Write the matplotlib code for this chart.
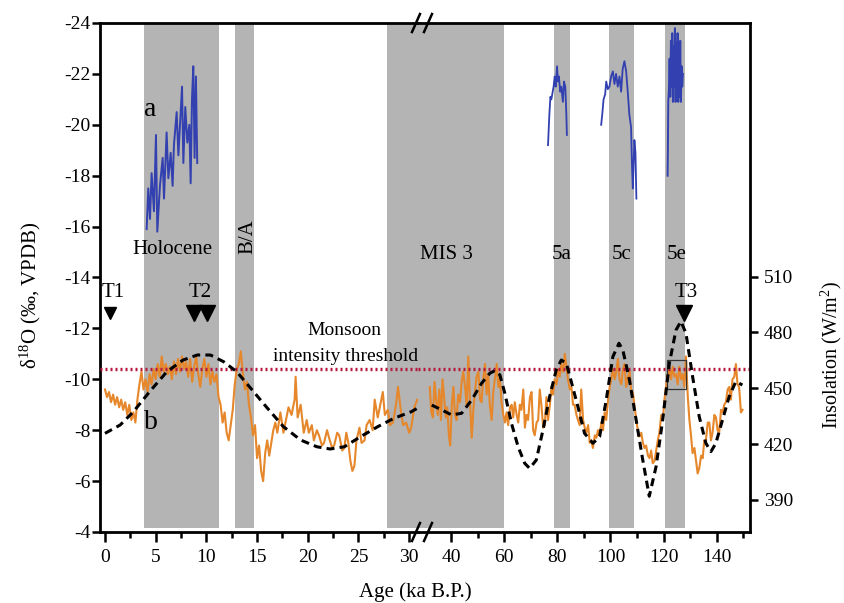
import matplotlib
matplotlib.use("Agg")
import matplotlib.pyplot as plt
from matplotlib.patches import Rectangle
from matplotlib.lines import Line2D

plt.rcParams['font.family'] = ['Liberation Serif', 'DejaVu Serif']
plt.rcParams['mathtext.fontset'] = 'custom'
plt.rcParams['mathtext.rm'] = 'Liberation Serif'
plt.rcParams['mathtext.it'] = 'Liberation Serif:italic'
plt.rcParams['axes.unicode_minus'] = False

# ---------------- data ----------------
# orange d18O record (b), younger part (0-31 ka)
b_age_young = [0.0, 0.2, 0.4, 0.6, 0.8, 1.0, 1.2, 1.4, 1.6, 1.8, 2.0, 2.2, 2.4, 2.6, 2.8, 3.0,
               3.2, 3.4, 3.6, 3.8, 4.0, 4.2, 4.4, 4.6, 4.8, 5.0, 5.2, 5.4, 5.6, 5.8, 6.0, 6.2,
               6.4, 6.6, 6.8, 7.0, 7.2, 7.4, 7.6, 7.8, 8.0, 8.2, 8.4, 8.6, 8.8, 9.0, 9.2, 9.4,
               9.6, 9.8, 10.0, 10.2, 10.4, 10.6, 10.8, 11.0, 11.2, 11.4, 11.6, 11.8, 12.0, 12.2,
               12.4, 12.6, 12.8, 13.0, 13.2, 13.4, 13.6, 13.8, 14.0, 14.2, 14.4, 14.6, 14.8, 15.0,
               15.2, 15.4, 15.6, 15.8, 16.0, 16.2, 16.4, 16.6, 16.8, 17.0, 17.3, 17.6, 17.9, 18.1,
               18.4, 18.7, 18.8, 19.0, 19.3, 19.6, 19.9, 20.1, 20.4, 20.6, 20.9, 21.1, 21.4, 21.6,
               21.9, 22.1, 22.4, 22.6, 22.9, 23.1, 23.4, 23.6, 23.8, 24.0, 24.2, 24.4, 24.6, 24.8,
               25.1, 25.3, 25.6, 25.8, 26.1, 26.4, 26.6, 26.9, 27.1, 27.4, 27.6, 27.9, 28.1, 28.4,
               28.7, 28.9, 29.2, 29.4, 29.7, 30.0, 30.2, 30.5, 30.8]
b_val_young = [-9.6, -9.3, -9.5, -9.1, -9.4, -9.0, -9.3, -8.9, -9.2, -8.8, -9.1, -8.6, -9.0, -8.4, -8.7, -8.3,
               -9.2, -9.8, -10.3, -9.6, -10.0, -9.5, -10.2, -9.8, -10.4, -10.0, -10.6, -10.1, -10.9, -10.3, -10.6, -10.2,
               -10.5, -10.0, -10.7, -10.2, -10.8, -10.3, -10.9, -10.4, -10.7, -10.1, -10.8, -9.9, -10.5, -10.9, -10.2, -9.7,
               -10.4, -10.8, -10.1, -10.6, -9.8, -10.3, -9.9, -10.2, -9.3, -9.0, -8.3, -8.7, -7.9, -7.6,
               -8.2, -8.8, -9.8, -10.4, -10.6, -11.1, -10.2, -9.6, -9.9, -9.0, -8.5, -7.8, -8.2, -6.9,
               -7.4, -6.4, -6.0, -7.1, -7.6, -7.0, -7.5, -8.0, -8.3, -7.9, -8.7, -7.9, -8.5, -8.9,
               -8.6, -9.2, -10.1, -8.5, -9.0, -7.9, -8.4, -7.9, -8.2, -7.6, -8.0, -7.8, -7.4, -7.5,
               -8.0, -7.7, -7.3, -7.4, -7.9, -7.8, -7.2, -7.3, -7.9, -7.5, -6.8, -6.4, -6.6, -7.6,
               -8.1, -7.5, -7.6, -8.2, -8.4, -8.0, -9.2, -8.5, -8.9, -9.5, -8.6, -8.8, -8.2, -8.3,
               -9.0, -9.7, -8.7, -8.2, -8.3, -7.9, -8.1, -8.9, -9.2]

# orange d18O record (b), older part (32-150 ka)
b_age_old = [32.0, 32.6, 33.2, 33.8, 34.4, 35.0, 35.6, 36.2, 36.8, 37.4, 38.0, 38.6, 39.2, 39.7, 40.3, 40.9,
             41.5, 42.1, 42.7, 43.4, 44.0, 44.6, 45.3, 45.9, 46.5, 47.1, 47.8, 48.4, 49.0, 49.6, 50.3, 50.9,
             51.5, 52.1, 52.8, 53.4, 54.0, 54.6, 55.3, 55.9, 56.5, 57.2, 57.8, 58.4, 59.0, 59.7, 60.3, 60.9,
             61.5, 62.2, 62.8, 63.4, 64.0, 64.7, 65.3, 65.9, 66.5, 67.2, 67.8, 68.4, 69.0, 69.7, 70.3, 70.9,
             71.5, 72.2, 72.8, 73.4, 74.0, 74.7, 75.3, 75.9, 76.5, 77.2, 77.8, 78.4, 79.0, 79.7, 80.3, 80.9,
             81.5, 82.2, 82.8, 83.4, 84.0, 84.7, 85.3, 85.9, 86.5, 87.2, 87.8, 88.4, 89.0, 89.7, 90.3, 90.9,
             91.6, 92.2, 92.8, 93.4, 94.1, 94.7, 95.3, 95.9, 96.6, 97.2, 97.8, 98.4, 99.1, 99.7, 100.3, 100.9,
             101.6, 102.2, 102.8, 103.4, 104.1, 104.7, 105.3, 105.9, 106.6, 107.2, 107.8, 108.4, 109.1, 109.7,
             110.3, 110.9, 111.6, 112.2, 112.8, 113.4, 114.1, 114.7, 115.3, 115.9, 116.6, 117.2, 117.8, 118.4,
             119.1, 119.7, 120.3, 120.9, 121.6, 122.2, 122.8, 123.4, 124.1, 124.7, 125.3, 125.9, 126.6, 127.2,
             127.8, 128.4, 129.1, 129.7, 130.3, 130.9, 131.6, 132.2, 132.8, 133.4, 134.1, 134.7, 135.3, 135.9,
             136.6, 137.2, 137.8, 138.4, 139.1, 139.7, 140.3, 140.9, 141.6, 142.2, 142.8, 143.4, 144.1, 144.7,
             145.3, 145.9, 146.6, 147.2, 147.8, 148.4, 149.1, 149.7]
b_val_old = [-9.7, -8.7, -8.5, -9.9, -9.2, -8.6, -9.6, -8.4, -10.0, -9.3, -8.5, -8.9, -7.8, -7.4, -9.0, -9.7,
             -8.6, -8.4, -9.4, -9.1, -9.9, -10.3, -9.7, -8.9, -10.9, -9.2, -7.7, -8.8, -9.5, -10.1, -10.3, -9.2,
             -9.1, -10.0, -10.6, -9.4, -10.2, -9.0, -8.4, -9.5, -10.0, -10.6, -9.7, -10.0, -9.1, -8.6, -8.3, -8.7,
             -8.2, -8.9, -9.0, -8.5, -9.1, -8.6, -8.3, -9.0, -8.8, -9.6, -8.1, -8.6, -8.4, -9.3, -9.5, -8.0,
             -7.8, -8.3, -8.4, -9.6, -9.0, -8.1, -8.2, -9.3, -8.4, -9.0, -9.7, -9.4, -10.0, -9.8, -10.4, -10.1,
             -10.6, -10.3, -11.0, -10.5, -10.0, -9.6, -9.7, -9.0, -9.0, -8.6, -8.4, -8.2, -9.6, -8.4, -8.1, -7.9,
             -8.2, -7.5, -7.6, -7.3, -7.8, -7.7, -8.0, -7.8, -8.3, -8.0, -8.7, -8.4, -9.2, -9.7, -10.0, -10.4,
             -10.0, -10.3, -10.8, -10.0, -9.8, -10.4, -10.6, -9.7, -10.1, -10.3, -9.5, -9.5, -8.9, -8.4,
             -8.0, -7.75, -7.9, -7.5, -7.3, -7.4, -7.0, -6.9, -7.2, -6.7, -6.8, -7.2, -7.6, -7.9,
             -8.6, -8.4, -9.2, -9.7, -10.2, -10.4, -10.0, -10.5, -10.1, -10.2, -9.8, -10.5, -10.0, -10.2,
             -9.7, -10.9, -9.3, -8.4, -7.8, -7.1, -7.3, -6.8, -6.3, -6.5, -7.0, -6.9, -7.6, -7.6,
             -8.3, -8.3, -7.6, -7.9, -8.6, -8.5, -8.0, -7.9, -8.8, -8.7, -9.0, -9.1, -9.6, -9.7,
             -9.2, -10.0, -10.1, -10.6, -9.8, -9.7, -8.7, -8.8]

# blue d18O record (a)
a_age_holo = [4.11, 4.27, 4.44, 4.6, 4.83, 5.03, 5.16, 5.42, 5.69, 5.82, 6.08, 6.25, 6.48, 6.67, 6.8,
              7.07, 7.24, 7.4, 7.6, 7.73, 7.92, 8.12, 8.32, 8.45, 8.58, 8.71, 8.84, 8.97, 9.1]
a_val_holo = [-15.9, -17.5, -16.3, -18.1, -16.6, -19.6, -15.8, -17.6, -18.7, -17.1, -19.7, -17.9, -18.9, -17.6, -19.2,
              -20.5, -18.8, -20.0, -21.5, -18.5, -20.7, -19.3, -20.0, -17.7, -21.0, -22.3, -18.7, -21.9, -18.5]
a_age_5a = [76.5, 77.0, 77.4, 77.75, 78.1, 78.6, 79.0, 79.4, 79.9, 80.25, 80.6, 81.1, 81.5, 82.1, 82.5, 83.0, 83.4, 83.6]
a_val_5a = [-19.2, -20.4, -21.1, -21.0, -21.2, -21.5, -21.9, -21.5, -22.3, -21.7, -21.9, -21.3, -21.5, -20.9, -21.7, -21.5, -20.4, -19.6]
a_age_5c = [96.5, 96.9, 97.4, 98.0, 98.4, 99.0, 99.6, 100.25, 100.9, 101.5, 102.1, 102.75, 103.4, 104.0, 104.6,
            105.25, 105.9, 106.5, 107.1, 107.75, 108.1, 108.4, 109.0, 109.4, 109.75]
a_val_5c = [-20.0, -20.4, -21.0, -21.2, -21.7, -21.4, -21.5, -21.9, -22.1, -21.6, -22.0, -21.5, -21.9, -21.3, -22.2,
            -22.5, -22.1, -21.3, -20.4, -19.9, -18.4, -17.5, -19.4, -18.9, -17.1]
a_age_5e = [121.5, 121.6, 121.75, 122.0, 122.25, 122.5, 122.75, 123.0, 123.25, 123.5, 123.75, 124.0, 124.25,
            124.5, 124.75, 125.0, 125.25, 125.5, 125.75, 126.0, 126.25, 126.5, 126.75, 127.0, 127.25]
a_val_5e = [-18.0, -19.0, -20.9, -21.4, -22.6, -21.1, -23.3, -21.5, -23.6, -20.9, -23.1, -21.5, -23.8,
            -20.9, -23.2, -21.8, -23.6, -20.9, -22.9, -21.1, -23.3, -20.9, -22.3, -21.5, -22.0]

# summer insolation (dashed), W/m2
ins_age_young = [0.0, 1.5, 2.8, 4.4, 6.1, 7.7, 9.1, 10.4, 11.7, 13.0, 14.3, 15.9, 17.6, 19.3, 20.9, 22.2,
                 23.6, 25.2, 26.9, 28.5, 30.2, 30.8]
ins_val_young = [425.8, 430.3, 437.4, 448.2, 458.9, 465.2, 467.9, 467.9, 464.3, 458.9, 450.5, 440.1, 429.4, 422.2,
                 418.6, 417.4, 418.6, 424.0, 429.4, 433.9, 437.4, 439.3]
ins_age_old = [32.75, 36.5, 40.25, 44.0, 47.75, 51.5, 54.6, 56.5, 58.4, 60.25, 62.75, 65.25, 67.75, 69.6, 72.1,
               74.6, 77.1, 79.6, 81.5, 83.4, 85.25, 87.75, 90.25, 93.4, 95.9, 98.4, 100.9, 103.2, 104.65, 107.15,
               109.65, 112.15, 114.6, 117.15, 119.65, 122.15, 124.65, 126.5, 128.4, 130.9, 133.4, 135.9, 137.8,
               139.65, 142.15, 144.65, 147.15, 149.65]
ins_val_old = [441.0, 438.4, 435.7, 436.6, 443.7, 452.7, 458.1, 459.5, 457.2, 447.3, 431.2, 418.6, 409.7, 407.0, 411.5,
               427.6, 445.5, 459.9, 465.2, 463.4, 453.6, 440.1, 425.8, 420.5, 424.0, 443.7, 467.0, 474.2, 470.6, 454.5,
               433.0, 411.5, 392.0, 407.9, 433.0, 463.4, 481.3, 486.0, 479.6, 456.3, 434.8, 420.5, 416.0,
               420.5, 433.0, 445.5, 453.6, 451.8]

threshold = -10.4

# shaded intervals (ka)
band_names = ['Holocene', 'B/A', 'MIS 3', '5a', '5c', '5e']
band_start = [3.8, 12.8, 27.8, 78.6, 99.6, 120.5]
band_end = [11.2, 14.7, 60.0, 84.9, 108.7, 128.2]

# terminations
t1_age = [0.5]
t2_age = [8.8, 10.1]
t3_age = [127.8]
t_marker_val = -12.6

box_age = [121.2, 128.3]
box_val = [-10.74, -9.63]

ins_ticks = [390, 420, 450, 480, 510]

# ---------------- figure ----------------
W, H = 845, 603
fig = plt.figure(figsize=(W / 100, H / 100), dpi=100)
x0, xb, x1 = 100, 418, 750
ytop, ybot = 23, 532
B = 1 - ybot / H
Ht = (ybot - ytop) / H
ax1 = fig.add_axes([x0 / W, B, (xb - x0) / W, Ht])
ax2 = fig.add_axes([xb / W, B, (x1 - xb) / W, Ht])
ax1.patch.set_visible(False)
ax2.patch.set_visible(False)

band_col = '#b4b4b4'
orange = '#e5872a'
blue = '#3240b0'
red = '#b5163c'

ax1.set_xlim(-0.49, 30.87)
ax2.set_xlim(27.58, 152.5)
for ax in (ax1, ax2):
    ax.set_ylim(-4, -24)
    for s, e in zip(band_start, band_end):
        ax.axvspan(s, e, ymin=0.008, ymax=1, color=band_col, lw=0, zorder=0)
    ax.axhline(threshold, color=red, lw=2.4, ls=(0, (0.6, 0.9)), zorder=4)
# close the seam of the MIS 3 band at the axis break
ax1.axvspan(band_start[2], 31.3, ymin=0.008, ymax=1, color=band_col, lw=0, zorder=0, clip_on=False)

ax1.plot(b_age_young, b_val_young, color=orange, lw=1.5, zorder=2)
ax2.plot(b_age_old, b_val_old, color=orange, lw=1.5, zorder=2)
ax1.plot(a_age_holo, a_val_holo, color=blue, lw=1.4, zorder=2)
ax2.plot(a_age_5a, a_val_5a, color=blue, lw=1.3, zorder=2)
ax2.plot(a_age_5c, a_val_5c, color=blue, lw=1.3, zorder=2)
ax2.plot(a_age_5e, a_val_5e, color=blue, lw=1.4, zorder=2)

ax2.add_patch(Rectangle((box_age[0], box_val[0]), box_age[1] - box_age[0], box_val[1] - box_val[0],
                        fill=False, ec='#333333', lw=0.9, zorder=5))

# insolation twins
tw1 = ax1.twinx()
tw2 = ax2.twinx()
for tw in (tw1, tw2):
    tw.set_ylim(372.8, 646.3)
tw1.plot(ins_age_young, ins_val_young, color='black', lw=2.2, ls=(0, (2.6, 1.7)), zorder=3)
tw2.plot(ins_age_old, ins_val_old, color='black', lw=2.2, ls=(0, (2.6, 1.7)), zorder=3)
tw1.set_xlim(ax1.get_xlim())
tw2.set_xlim(ax2.get_xlim())
tw1.axis('off')
for s in ('left', 'top', 'bottom'):
    tw2.spines[s].set_visible(False)
tw2.spines['right'].set_linewidth(2)
tw2.set_yticks(ins_ticks)
tw2.tick_params(axis='y', direction='out', length=6, width=1.8, pad=4, labelsize=14)

# markers
ax1.plot(t1_age, [t_marker_val] * len(t1_age), 'v', color='black', ms=8, zorder=6, clip_on=False)
ax1.plot(t2_age, [t_marker_val] * len(t2_age), 'v', color='black', ms=11, zorder=6, clip_on=False)
ax2.plot(t3_age, [t_marker_val] * len(t3_age), 'v', color='black', ms=11, zorder=6, clip_on=False)

# spines & ticks
lw_sp = 2
ax1.spines['right'].set_visible(False)
ax2.spines['left'].set_visible(False)
ax2.spines['right'].set_visible(False)
for ax in (ax1, ax2):
    for s in ('top', 'bottom', 'left'):
        ax.spines[s].set_linewidth(lw_sp)
ax1.set_xticks([0, 5, 10, 15, 20, 25, 30])
ax1.set_xticks([2.5, 7.5, 12.5, 17.5, 22.5, 27.5], minor=True)
ax2.set_xticks([40, 60, 80, 100, 120, 140])
ax2.set_xticks([50, 70, 90, 110, 130, 150], minor=True)
ax1.set_yticks(range(-24, -3, 2))
ax2.set_yticks([])
for ax in (ax1, ax2):
    ax.tick_params(axis='x', which='major', direction='out', length=7, width=1.8, pad=5, labelsize=14)
    ax.tick_params(axis='x', which='minor', direction='out', length=4.5, width=1.8)
ax1.tick_params(axis='y', direction='out', length=6, width=1.8, pad=1, labelsize=14)

# break marks
def slash(xc, yc):
    fig.add_artist(Line2D([(xc - 4) / W, (xc + 4) / W], [1 - (yc + 9) / H, 1 - (yc - 9) / H],
                          color='black', lw=1.8))
for xc in (416, 428):
    slash(xc, ybot)
    slash(xc, ytop)

# texts
ax1.text(4.5, -20.6, 'a', fontsize=20, ha='center', va='center')
ax1.text(4.5, -8.3, 'b', fontsize=20, ha='center', va='center')
ax1.text(6.7, -15.1, 'Holocene', fontsize=15, ha='center', va='center')
ax1.text(14.1, -15.6, 'B/A', fontsize=15, ha='center', va='center', rotation=90)
ax2.text(38.4, -14.9, 'MIS 3', fontsize=15, ha='center', va='center')
ax2.text(81.8, -14.9, '5a', fontsize=15, ha='center', va='center')
ax2.text(104.2, -14.9, '5c', fontsize=15, ha='center', va='center')
ax2.text(125.0, -14.9, '5e', fontsize=15, ha='center', va='center')
ax1.text(0.8, -13.4, 'T1', fontsize=15, ha='center', va='center')
ax1.text(9.4, -13.4, 'T2', fontsize=15, ha='center', va='center')
ax2.text(128.4, -13.4, 'T3', fontsize=15, ha='center', va='center')
ax1.text(23.6, -11.9, 'Monsoon', fontsize=14, ha='center', va='center', clip_on=False)
ax1.text(23.7, -10.9, 'intensity threshold', fontsize=14, ha='center', va='center', clip_on=False, zorder=7)

fig.text(415 / W, 1 - 592 / H, 'Age (ka B.P.)', fontsize=15, ha='center', va='center')
fig.text(30 / W, 1 - 295 / H, 'δ$^{18}$O (‰, VPDB)', fontsize=15, ha='center', va='center', rotation=90)
fig.text(831 / W, 1 - 355 / H, 'Insolation (W/m$^{2}$)', fontsize=14.5, ha='center', va='center', rotation=90)

fig.savefig('out.png', dpi=100)
